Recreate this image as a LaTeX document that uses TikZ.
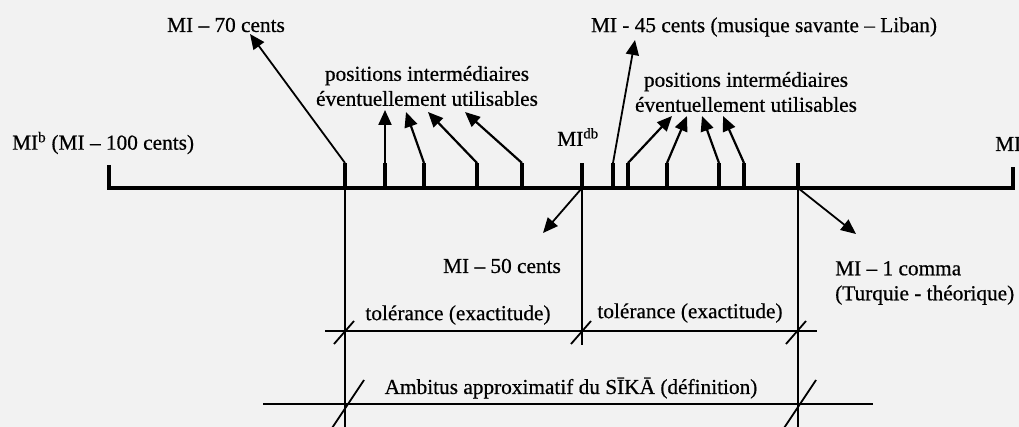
\documentclass[tikz,border=0pt]{standalone}
\usepackage{fontspec}
\setmainfont[FakeBold=0.6,AutoFakeBold=0.6]{Liberation Serif}
\usetikzlibrary{arrows.meta}
\definecolor{bg}{RGB}{242,242,242}
\begin{document}
\begin{tikzpicture}[x=1pt,y=-1pt,
  lbl/.style={inner sep=0pt, font=\fontsize{21.3}{25}\selectfont\bfseries},
  heavy/.style={line width=3.6pt, line join=miter},
  thinl/.style={line width=1.8pt},
  arr/.style={line width=2.2pt, -{Triangle[length=15pt,width=13pt]}},
  slash/.style={line width=1.8pt}]
\fill[bg] (0,0) rectangle (1019,427);
\useasboundingbox (0,0) rectangle (1019,427);

% labels
\node[lbl] (m70) at (226,25) {MI – 70 cents};
\node[lbl, anchor=west] (mb) at (12,143) {MI\textsuperscript{b} (MI – 100 cents)};
\node[lbl, align=center] (pos1) at (427,86) {positions intermédiaires\\éventuellement utilisables};
\node[lbl, align=center] (pos2) at (746,92) {positions intermédiaires\\éventuellement utilisables};
\node[lbl] (m45) at (764,27) {MI - 45 cents (musique savante – Liban)};
\node[lbl] (mdb) at (578,137) {MI\textsuperscript{db}};
\node[lbl, anchor=west] (mr) at (995,144) {MI};
\node[lbl] (m50) at (502,266) {MI – 50 cents};
\node[lbl] (tol1) at (458,315) {tolérance (exactitude)};
\node[lbl] (tol2) at (690,313) {tolérance (exactitude)};
\node[lbl] (amb) at (571,388) {Ambitus approximatif du SĪKĀ (définition)};
\node[lbl, align=left, anchor=west] (m1c) at (835,283) {MI – 1 comma\\(Turquie - théorique)};

% main line with brackets
\coordinate (LT) at (109,165);
\coordinate (L) at (109,188);
\coordinate (R) at (1013,188);
\coordinate (RT) at (1013,167);
\draw[heavy] (LT) -- (L) -- (R) -- (RT);

% stubs
\foreach \n/\x in {a/345,b/385,c/424,d/477,e/522,f/582,g/613,h/628,i/667,j/719,k/744,l/798}{
  \coordinate (s\n) at (\x,163);
  \coordinate (b\n) at (\x,188);
  \draw[heavy] (b\n) -- (s\n);
}

% arrow tips
\coordinate (t70) at (250,34);
\coordinate (tb) at (385,110);
\coordinate (tc) at (406,112);
\coordinate (td) at (428,112);
\coordinate (te) at (465,112);
\coordinate (t45) at (635,40);
\coordinate (th) at (672,116);
\coordinate (ti) at (687,116);
\coordinate (tj) at (702,116);
\coordinate (tk) at (723,116);
\coordinate (t50) at (543,233);
\coordinate (t1c) at (856,234);

\draw[arr, line width=1.8pt] (sa) -- (t70);
\draw[arr] (sb) -- (tb);
\draw[arr] (sc) -- (tc);
\draw[arr] (sd) -- (td);
\draw[arr] (se) -- (te);
\draw[arr, line width=1.8pt] (sg) -- (t45);
\draw[arr] (sh) -- (th);
\draw[arr] (si) -- (ti);
\draw[arr] (sj) -- (tj);
\draw[arr] (sk) -- (tk);
\draw[arr, line width=1.8pt] (bf) -- (t50);
\draw[arr, line width=1.8pt] (bl) -- (t1c);

% vertical lines
\coordinate (va) at (345,427);
\coordinate (vf) at (582,345);
\coordinate (vl) at (798,427);
\draw[thinl] (ba) -- (va);
\draw[thinl] (bf) -- (vf);
\draw[thinl] (bl) -- (vl);

% horizontal dimension lines
\coordinate (h1a) at (325,331);
\coordinate (h1b) at (817,331);
\coordinate (h2a) at (263,404);
\coordinate (h2b) at (873,404);
\draw[thinl] (h1a) -- (h1b);
\draw[thinl] (h2a) -- (h2b);

% slash ticks
\foreach \x in {345,582,797}{
  \coordinate (k1\x) at (\x,331);
  \draw[slash] ([shift={(-11,13)}]k1\x) -- ([shift={(9,-10)}]k1\x);
}
\foreach \x in {345,797}{
  \coordinate (k2\x) at (\x,404);
  \draw[slash] ([shift={(-13,24)}]k2\x) -- ([shift={(19,-24)}]k2\x);
}
\end{tikzpicture}
\end{document}
